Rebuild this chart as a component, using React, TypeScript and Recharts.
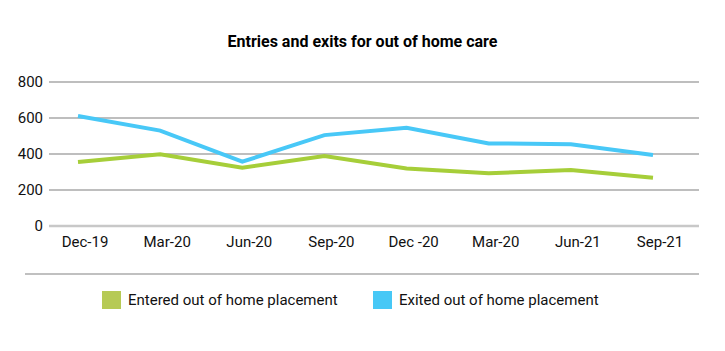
import { LineChart, Line, XAxis, YAxis, CartesianGrid, ReferenceLine } from "recharts";

const months = ["Dec-19", "Mar-20", "Jun-20", "Sep-20", "Dec -20", "Mar-20", "Jun-21", "Sep-21"];
const entered = [356, 398, 324, 389, 320, 293, 311, 268];
const exited = [611, 530, 357, 505, 546, 459, 454, 394];
const yTicks = [0, 200, 400, 600, 800];

const GREEN = "#a6ce39";
const BLUE = "#48c8f7";

const data = months.map((m, i) => ({ month: m, entered: entered[i], exited: exited[i] }));

const font = "Roboto, 'Noto Sans', sans-serif";

function LegendItem({ color, label }: { color: string; label: string }) {
  return (
    <div style={{ display: "flex", alignItems: "center" }}>
      <span style={{ width: 19, height: 18, background: color, marginRight: 7 }} />
      <span style={{ fontSize: 15, color: "#111" }}>{label}</span>
    </div>
  );
}

export default function App() {
  return (
    <div
      style={{
        position: "absolute",
        left: 0,
        top: 0,
        width: 725,
        height: 351,
        background: "#fff",
        fontFamily: font,
      }}
    >
      <div
        style={{
          position: "absolute",
          top: 32,
          left: 0,
          width: 725,
          textAlign: "center",
          fontSize: 16,
          fontWeight: 700,
          color: "#000",
        }}
      >
        Entries and exits for out of home care
      </div>

      <LineChart width={725} height={351} data={data} margin={{ top: 82, right: 26, bottom: 95, left: 0 }}>
        <CartesianGrid vertical={false} stroke="#a8a8a8" strokeWidth={1.5} />
        <XAxis
          dataKey="month"
          interval={0}
          axisLine={false}
          tickLine={false}
          tickMargin={4}
          height={30}
          padding={{ left: 29, right: 46 }}
          tick={{ fontSize: 15, fill: "#111", fontFamily: font, dx: 7 }}
        />
        <YAxis
          domain={[0, 800]}
          ticks={yTicks}
          width={49}
          axisLine={false}
          tickLine={false}
          tickMargin={0}
          tick={{ fontSize: 15, fill: "#111", fontFamily: font }}
        />
        <ReferenceLine y={0} stroke="#c8c8c8" strokeWidth={2.5} />
        <Line
          type="linear"
          dataKey="entered"
          stroke={GREEN}
          strokeWidth={4}
          dot={false}
          isAnimationActive={false}
        />
        <Line
          type="linear"
          dataKey="exited"
          stroke={BLUE}
          strokeWidth={4}
          dot={false}
          isAnimationActive={false}
        />
      </LineChart>

      <div style={{ position: "absolute", left: 25, top: 273, width: 674, height: 2, background: "#c0c0c0" }} />

      <div style={{ position: "absolute", left: 102, top: 291, display: "flex" }}>
        <div style={{ width: 271 }}>
          <LegendItem color="#b6ca55" label="Entered out of home placement" />
        </div>
        <LegendItem color="#47c8f6" label="Exited out of home placement" />
      </div>
    </div>
  );
}
